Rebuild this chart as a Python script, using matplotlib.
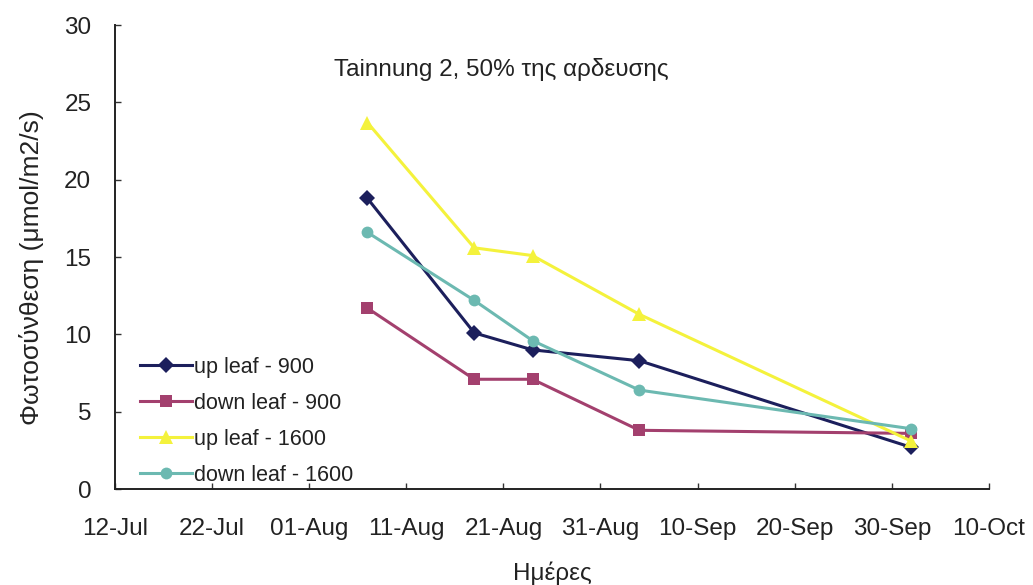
import datetime as dt
import matplotlib
matplotlib.use("Agg")
import matplotlib.pyplot as plt
import matplotlib.dates as mdates

plt.rcParams['font.family'] = ['Liberation Sans', 'DejaVu Sans']

# Measurement dates
dates = ["2003-08-07", "2003-08-18", "2003-08-24", "2003-09-04", "2003-10-02"]

# Photosynthesis rate (μmol/m2/s)
up_leaf_900 = [18.8, 10.1, 9.0, 8.3, 2.7]
down_leaf_900 = [11.7, 7.1, 7.1, 3.8, 3.6]
up_leaf_1600 = [23.7, 15.6, 15.1, 11.3, 3.1]
down_leaf_1600 = [16.6, 12.2, 9.6, 6.4, 3.9]

series_labels = ["up leaf - 900", "down leaf - 900", "up leaf - 1600", "down leaf - 1600"]

x_start = "2003-07-12"
x_end = "2003-10-10"
y_ticks = [0, 5, 10, 15, 20, 25, 30]

title_text = "Tainnung 2, 50% της αρδευσης"
x_label = "Ημέρες"
y_label = "Φωτοσύνθεση (μmol/m2/s)"

xs = [dt.datetime.fromisoformat(d) for d in dates]

fig = plt.figure(figsize=(10.33, 5.85), dpi=100)
ax = fig.add_axes([0.1113, 0.164, 0.846, 0.793])

styles = [
    dict(color="#1c1f5c", marker="D", markersize=8),
    dict(color="#a3406e", marker="s", markersize=9),
    dict(color="#f4f23c", marker="^", markersize=10),
    dict(color="#6cb9b1", marker="o", markersize=8.5),
]
for vals, lab, st in zip([up_leaf_900, down_leaf_900, up_leaf_1600, down_leaf_1600],
                         series_labels, styles):
    ax.plot(xs, vals, label=lab, linewidth=2.2, markeredgewidth=0, **st)

ax.set_xlim(dt.datetime.fromisoformat(x_start), dt.datetime.fromisoformat(x_end))
ax.set_ylim(0, 30)
ax.set_yticks(y_ticks)
ticks = [dt.datetime.fromisoformat(x_start) + dt.timedelta(days=10 * i) for i in range(10)]
ax.set_xticks(ticks)
ax.xaxis.set_major_formatter(mdates.DateFormatter("%d-%b"))

for side in ("top", "right"):
    ax.spines[side].set_visible(False)
for side in ("left", "bottom"):
    ax.spines[side].set_color("#222222")
    ax.spines[side].set_linewidth(1.4)

ax.tick_params(axis="both", direction="in", length=4, width=1, color="#333333",
               labelsize=17.5, labelcolor="#222222")
ax.tick_params(axis="y", pad=17)
ax.tick_params(axis="x", pad=21)

ax.set_xlabel(x_label, fontsize=17.5, color="#222222", labelpad=15)
ax.set_ylabel(y_label, fontsize=19, color="#222222")
ax.yaxis.set_label_coords(-0.081, 0.478)

ax.text(0.442, 0.905, title_text, transform=ax.transAxes, ha="center", va="center",
        fontsize=17.5, color="#222222")

ax.legend(loc="lower left", bbox_to_anchor=(0.007, -0.035), frameon=False,
          fontsize=15.5, handlelength=2.4, handletextpad=0.1, labelspacing=0.7,
          labelcolor="#222222")

fig.savefig("out.png", dpi=100, facecolor="white")
